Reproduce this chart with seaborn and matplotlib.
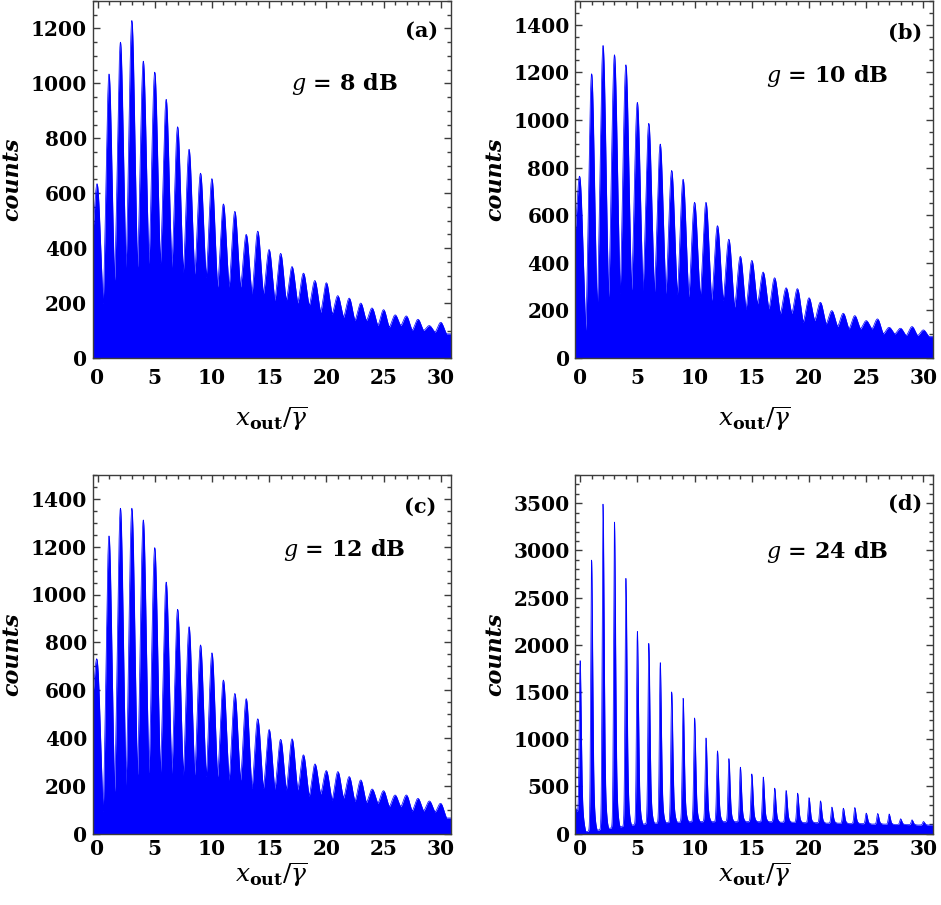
import numpy as np
import pandas as pd
import matplotlib
matplotlib.use("Agg")
import matplotlib.pyplot as plt
import seaborn as sns
from matplotlib.ticker import MultipleLocator

# ---------------- data ----------------
peak_n = [0, 1, 2, 3, 4, 5, 6, 7, 8, 9, 10, 11, 12, 13, 14, 15, 16, 17, 18, 19,
          20, 21, 22, 23, 24, 25, 26, 27, 28, 29, 30]
valley_x = [-0.5, 0.5, 1.5, 2.5, 3.5, 4.5, 5.5, 6.5, 7.5, 8.5, 9.5, 10.5, 11.5,
            12.5, 13.5, 14.5, 15.5, 16.5, 17.5, 18.5, 19.5, 20.5, 21.5, 22.5,
            23.5, 24.5, 25.5, 26.5, 27.5, 28.5, 29.5, 30.5]

peaks_a = [630, 1034, 1150, 1229, 1081, 1041, 942, 842, 760, 673, 653, 561, 534,
           450, 462, 395, 381, 333, 309, 282, 274, 227, 218, 200, 182, 176, 157,
           153, 141, 118, 130]
valleys_a = [420, 197, 282, 330, 330, 343, 343, 330, 312, 305, 294, 258, 258, 258,
             233, 233, 209, 209, 200, 190, 166, 160, 148, 136, 136, 118, 112, 118,
             100, 100, 94, 88]

peaks_b = [754, 1194, 1313, 1274, 1232, 1074, 986, 899, 788, 751, 654, 654, 556,
           499, 427, 410, 361, 337, 295, 291, 253, 234, 199, 188, 178, 157, 164,
           129, 125, 132, 118]
valleys_b = [500, 115, 200, 256, 270, 284, 284, 277, 270, 265, 256, 256, 242, 242,
             213, 205, 227, 206, 185, 187, 150, 157, 143, 132, 122, 122, 122, 101,
             101, 94, 94, 90]

peaks_c = [715, 1245, 1361, 1361, 1312, 1196, 1052, 938, 865, 789, 756, 642, 586,
           564, 480, 435, 394, 396, 329, 291, 263, 259, 238, 224, 186, 179, 161,
           161, 147, 136, 126]
valleys_c = [550, 91, 174, 202, 244, 251, 251, 251, 244, 244, 237, 237, 223, 223,
             188, 188, 185, 182, 182, 156, 165, 140, 148, 134, 129, 126, 112, 112,
             94, 94, 90, 65]

peaks_d = [1833, 2899, 3492, 3301, 2705, 2143, 2016, 1811, 1501, 1434, 1225, 1013,
           876, 794, 703, 632, 598, 481, 456, 428, 380, 346, 280, 268, 275, 216,
           212, 207, 156, 145, 127]
valleys_d = [300, 20, 35, 55, 70, 90, 100, 110, 115, 120, 125, 125, 125, 125, 125,
             125, 125, 125, 120, 120, 115, 115, 110, 110, 105, 105, 100, 100, 95,
             95, 90, 90]

panel_tags = ["(a)", "(b)", "(c)", "(d)"]
gain_labels = [r"$g$ = 8 dB", r"$g$ = 10 dB", r"$g$ = 12 dB", r"$g$ = 24 dB"]
y_max = [1300, 1500, 1500, 3800]
y_minor = [50, 50, 50, 100]
y_ticks = [[0, 200, 400, 600, 800, 1000, 1200],
           [0, 200, 400, 600, 800, 1000, 1200, 1400],
           [0, 200, 400, 600, 800, 1000, 1200, 1400],
           [0, 500, 1000, 1500, 2000, 2500, 3000, 3500]]
x_ticks = [0, 5, 10, 15, 20, 25, 30]
x_tick_labels = ["0", "5", "10", "15", "20", "25", "30"]


# ---------------- peak profile shapes (rendering only) ----------------
def sym_shape(d, sig=0.27):
    g = np.exp(-d ** 2 / (2 * sig ** 2))
    g0 = np.exp(-0.25 / (2 * sig ** 2))
    return np.clip((g - g0) / (1 - g0), 0, 1)


def spike_shape(d):
    left = np.exp(-d ** 2 / (2 * 0.075 ** 2))
    r = lambda t: 0.8 * np.exp(-t ** 2 / (2 * 0.095 ** 2)) + 0.2 * np.exp(-t ** 2 / (2 * 0.2 ** 2))
    r0 = r(0.5)
    right = (r(d) - r0) / (1 - r0)
    return np.clip(np.where(d < 0, left, right), 0, 1)


def profile(xs, peaks, valleys, shape):
    base = np.interp(xs, valley_x, valleys)
    y = base.copy()
    for n, p in zip(peak_n, peaks):
        d = xs - n
        m = np.abs(d) <= 0.5
        b_n = np.interp(n, valley_x, valleys)
        y[m] += (p - b_n) * shape(d[m])
    return y


# ---------------- style ----------------
sns.set_theme(style="ticks")
plt.rcParams["font.family"] = ["DejaVu Serif"]
plt.rcParams["mathtext.fontset"] = "dejavuserif"
for k in ["text.color", "axes.labelcolor", "xtick.labelcolor", "ytick.labelcolor"]:
    plt.rcParams[k] = "black"

W, H = 941, 905
fig = plt.figure(figsize=(W / 100, H / 100), dpi=100)
rects = [
    (92.7 / W, 1 - 358 / H, 358 / W, 357 / H),
    (575.3 / W, 1 - 358 / H, 358 / W, 357 / H),
    (92.7 / W, 1 - 833.5 / H, 358 / W, 358.5 / H),
    (575.3 / W, 1 - 833.5 / H, 358 / W, 358.5 / H),
]
data = [(peaks_a, valleys_a, sym_shape), (peaks_b, valleys_b, sym_shape),
        (peaks_c, valleys_c, sym_shape), (peaks_d, valleys_d, spike_shape)]
tag_pos = [(0.965, 0.916), (0.970, 0.911), (0.961, 0.912), (0.970, 0.921)]
gain_pos = [(0.853, 0.767), (0.873, 0.790), (0.873, 0.790), (0.874, 0.786)]
xtick_pad = [7.5, 7.5, 4.0, 4.0]
xlabel_y = [-0.128, -0.128, -0.074, -0.074]

x_lo, x_hi = -0.42, 30.86
xs = np.linspace(x_lo, x_hi, 6000)
frame_col = "#3c3c3c"

for i, rect in enumerate(rects):
    ax = fig.add_axes(rect)
    peaks, valleys, shape = data[i]
    ys = profile(xs, peaks, valleys, shape)
    df = pd.DataFrame({"x": xs, "counts": ys})
    ax.fill_between(df["x"], 0, df["counts"], color="#0000ff", linewidth=0)
    sns.lineplot(data=df, x="x", y="counts", ax=ax, color="#0000ff",
                 linewidth=0.5, estimator=None)
    ax.set_xlim(x_lo, x_hi)
    ax.set_ylim(0, y_max[i])
    ax.set_xticks(x_ticks)
    ax.set_xticklabels(x_tick_labels, fontweight="bold", fontsize=14.5, color="black")
    ax.set_yticks(y_ticks[i])
    ax.set_yticklabels([str(v) for v in y_ticks[i]], fontweight="bold", fontsize=14.5,
                       color="black")
    ax.xaxis.set_minor_locator(MultipleLocator(1))
    ax.yaxis.set_minor_locator(MultipleLocator(y_minor[i]))
    ax.tick_params(which="both", direction="in", top=True, right=True,
                   color=frame_col, width=1.0)
    ax.tick_params(which="major", length=5)
    ax.tick_params(which="minor", length=2.7)
    ax.tick_params(axis="y", which="major", pad=4)
    ax.tick_params(axis="x", which="major", pad=xtick_pad[i])
    for sp in ax.spines.values():
        sp.set_color(frame_col)
        sp.set_linewidth(1.0)
        sp.set_visible(True)
    ax.set_ylabel("counts", fontstyle="italic", fontweight="bold", fontsize=16,
                  color="black")
    ax.yaxis.set_label_coords(-0.194, 0.5)
    ax.set_xlabel(r"$x_{\mathbf{out}}/\overline{\gamma}$", fontsize=18, color="black")
    ax.xaxis.set_label_coords(0.5, xlabel_y[i])
    ax.text(tag_pos[i][0], tag_pos[i][1], panel_tags[i], transform=ax.transAxes,
            ha="right", va="center", fontsize=15, fontweight="bold", color="black")
    ax.text(gain_pos[i][0], gain_pos[i][1], gain_labels[i], transform=ax.transAxes,
            ha="right", va="center", fontsize=16, fontweight="bold", color="black")

fig.savefig("out.png", dpi=100)
